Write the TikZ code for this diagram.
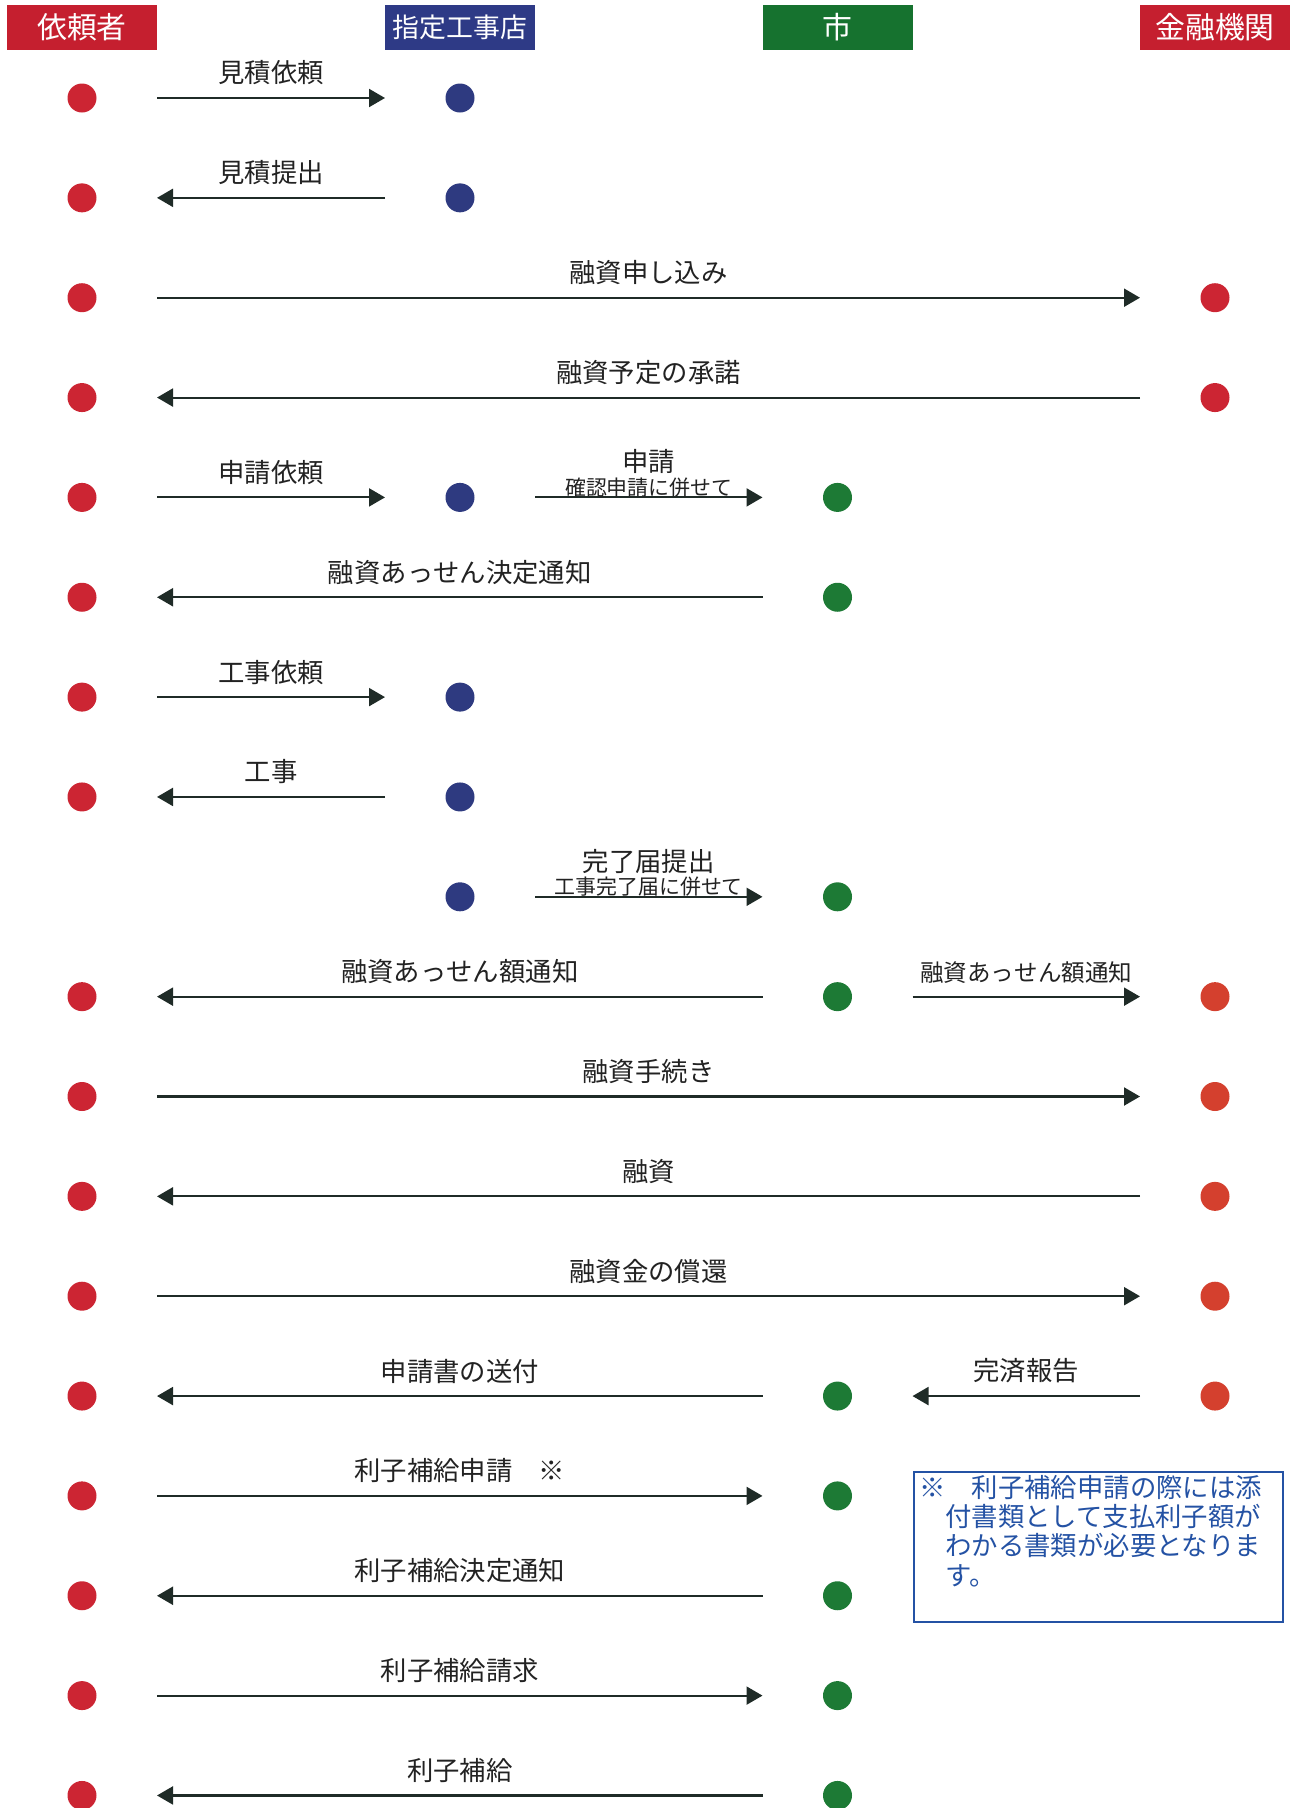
\documentclass[tikz,border=0pt]{standalone}
\usepackage{fontspec}
\setmainfont{Noto Sans CJK JP}
\usetikzlibrary{arrows.meta}

\definecolor{hdrred}{HTML}{C51F2F}
\definecolor{hdrblue}{HTML}{2E3A86}
\definecolor{hdrgreen}{HTML}{16722F}
\definecolor{dotred}{HTML}{CC2533}
\definecolor{dotblue}{HTML}{2E3A80}
\definecolor{dotgreen}{HTML}{1D7A35}
\definecolor{dotorange}{HTML}{D4402E}
\definecolor{arrowc}{HTML}{1F2B27}
\definecolor{labelc}{HTML}{222222}
\definecolor{noteblue}{HTML}{2452A4}

\tikzset{
  hdr/.style={fill=#1, text=white, minimum width=3cm, minimum height=0.9cm, inner sep=0pt, font=\fontsize{17}{20}\selectfont},
  pt/.style={circle, fill=#1, minimum size=0.58cm, inner sep=0pt, outer sep=0pt},
  msg/.style={draw=arrowc, line width=1.2pt, -{Triangle[length=0.32cm,width=0.36cm]}, shorten >=1.21cm, shorten <=1.21cm},
  lbl/.style={font=\fontsize{15}{18}\selectfont, text=labelc, inner sep=0pt, yshift=#1},
  lbl/.default=0.5cm,
  sublbl/.style={font=\fontsize{11.9}{14}\selectfont, text=labelc, inner sep=0pt, yshift=0.2cm},
}

\begin{document}
\begin{tikzpicture}
\useasboundingbox (0,0) rectangle (25.94,-36.16);
%headers
\node[hdr=hdrred] (hreq) at (1.64,-0.55) {依頼者};
\node[hdr=hdrblue, font=\fontsize{15.3}{18}\selectfont] (hcon) at (9.2,-0.55) {指定工事店};
\node[hdr=hdrgreen] (hcity) at (16.75,-0.55) {市};
\node[hdr=hdrred] (hbank) at (24.3,-0.55) {金融機関};
%dots
\foreach \i in {1,...,8,10,11,...,18}
  \node[pt=dotred] (r\i) at (1.64,{-1.96-(\i-1)*1.997}) {};
\foreach \i in {1,2,5,7,8,9}
  \node[pt=dotblue] (k\i) at (9.2,{-1.96-(\i-1)*1.997}) {};
\foreach \i in {5,6,9,10,14,15,16,17,18}
  \node[pt=dotgreen] (s\i) at (16.75,{-1.96-(\i-1)*1.997}) {};
\foreach \i in {3,4}
  \node[pt=dotred] (b\i) at (24.3,{-1.96-(\i-1)*1.997}) {};
\foreach \i in {10,...,14}
  \node[pt=dotorange] (b\i) at (24.3,{-1.96-(\i-1)*1.997}) {};
%messages
\draw[msg] (r1) -- node[lbl] (m1) {見積依頼} (k1);
\draw[msg] (k2) -- node[lbl] (m2) {見積提出} (r2);
\draw[msg] (r3) -- node[lbl] (m3) {融資申し込み} (b3);
\draw[msg] (b4) -- node[lbl] (m4) {融資予定の承諾} (r4);
\draw[msg] (r5) -- node[lbl] (m5a) {申請依頼} (k5);
\draw[msg] (k5) -- node[lbl=0.72cm] (m5b) {申請} node[sublbl] (m5c) {確認申請に併せて} (s5);
\draw[msg] (s6) -- node[lbl] (m6) {融資あっせん決定通知} (r6);
\draw[msg] (r7) -- node[lbl] (m7) {工事依頼} (k7);
\draw[msg] (k8) -- node[lbl] (m8) {工事} (r8);
\draw[msg] (k9) -- node[lbl=0.7cm] (m9a) {完了届提出} node[sublbl] (m9b) {工事完了届に併せて} (s9);
\draw[msg] (s10) -- node[lbl] (m10a) {融資あっせん額通知} (r10);
\draw[msg] (s10) -- node[lbl=0.48cm, font=\fontsize{13.4}{16}\selectfont] (m10b) {融資あっせん額通知} (b10);
\draw[msg] (r11) -- node[lbl] (m11) {融資手続き} (b11);
\draw[msg] (b12) -- node[lbl] (m12) {融資} (r12);
\draw[msg] (r13) -- node[lbl] (m13) {融資金の償還} (b13);
\draw[msg] (s14) -- node[lbl] (m14a) {申請書の送付} (r14);
\draw[msg] (b14) -- node[lbl] (m14b) {完済報告} (s14);
\draw[msg] (r15) -- node[lbl] (m15) {利子補給申請　※} (s15);
\draw[msg] (s16) -- node[lbl] (m16) {利子補給決定通知} (r16);
\draw[msg] (r17) -- node[lbl] (m17) {利子補給請求} (s17);
\draw[msg] (s18) -- node[lbl] (m18) {利子補給} (r18);
%note
\node[draw=noteblue, line width=1.4pt, minimum width=7.38cm, minimum height=3cm, inner sep=0pt] (note) at (21.97,-30.94) {};
\node[anchor=north west, inner sep=0pt, align=left, text=noteblue, font=\fontsize{15}{16.7}\selectfont] (notetxt) at ([xshift=0.12cm,yshift=-0.08cm]note.north west)
  {※　利子補給申請の際には添\\\phantom{※}付書類として支払利子額が\\\phantom{※}わかる書類が必要となりま\\\phantom{※}す。};
\end{tikzpicture}
\end{document}
